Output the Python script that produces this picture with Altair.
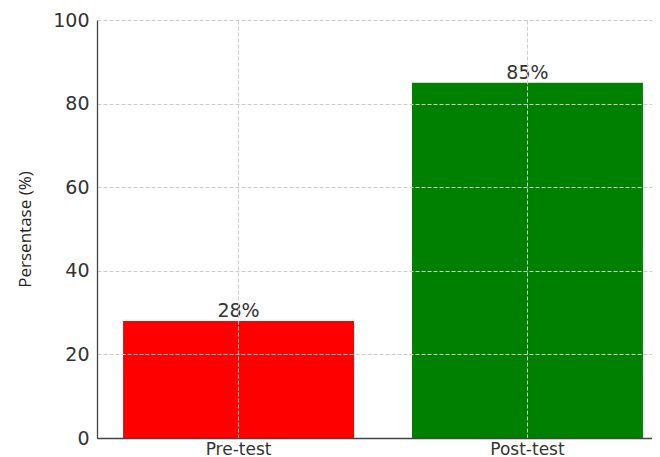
import altair as alt
import pandas as pd

categories = ["Pre-test", "Post-test"]
values = [28, 85]
colors = ["#ff0000", "#008000"]
y_ticks = [0, 20, 40, 60, 80, 100]

df = pd.DataFrame({"Tes": categories, "Nilai": values})
df["Label"] = [f"{v}%" for v in values]

x_enc = alt.X(
    "Tes:N",
    sort=categories,
    scale=alt.Scale(paddingInner=0.2, paddingOuter=0.09, range=[0, 572]),
    axis=alt.Axis(
        title=None, labelAngle=0, labelFont="DejaVu Sans", labelFontSize=17,
        labelColor="#333333", labelPadding=3, ticks=False,
        domainColor="#444444", domainWidth=1.3,
        grid=True, gridColor="#cccccc", gridDash=[4, 2], gridWidth=1,
        zindex=1,
    ),
)

y_enc = alt.Y(
    "Nilai:Q",
    scale=alt.Scale(domain=[0, 100], nice=False),
    axis=alt.Axis(
        values=y_ticks, title="Persentase (%)",
        labelFont="DejaVu Sans", labelFontSize=19, labelColor="#333333",
        labelPadding=8, ticks=False,
        domainColor="#444444", domainWidth=1.3,
        grid=True, gridColor="#cccccc", gridDash=[4, 2], gridWidth=1,
        titleFont="Open Sans", titleFontSize=17,
        titleFontWeight="normal", titleColor="#222222",
        titleAngle=-90, titleAlign="center", titleBaseline="middle",
        titleX=-72, titleY=209,
        zindex=1,
    ),
)

bars = alt.Chart(df).mark_bar(size=231).encode(
    x=x_enc,
    y=y_enc,
    color=alt.Color("Tes:N", scale=alt.Scale(domain=categories, range=colors), legend=None),
)

text = alt.Chart(df).mark_text(
    baseline="alphabetic", dy=-4, font="DejaVu Sans", fontSize=19, color="#333333"
).encode(
    x=alt.X("Tes:N", sort=categories),
    y=alt.Y("Nilai:Q"),
    text="Label:N",
)

chart = alt.layer(bars, text).properties(
    width=555, height=418,
    autosize=alt.AutoSizeParams(type="none"),
    padding={"left": 89, "top": 12, "right": 0, "bottom": 30},
).configure_view(stroke=None)

chart.save("out.html", embed_options={"renderer": "svg", "actions": False})
